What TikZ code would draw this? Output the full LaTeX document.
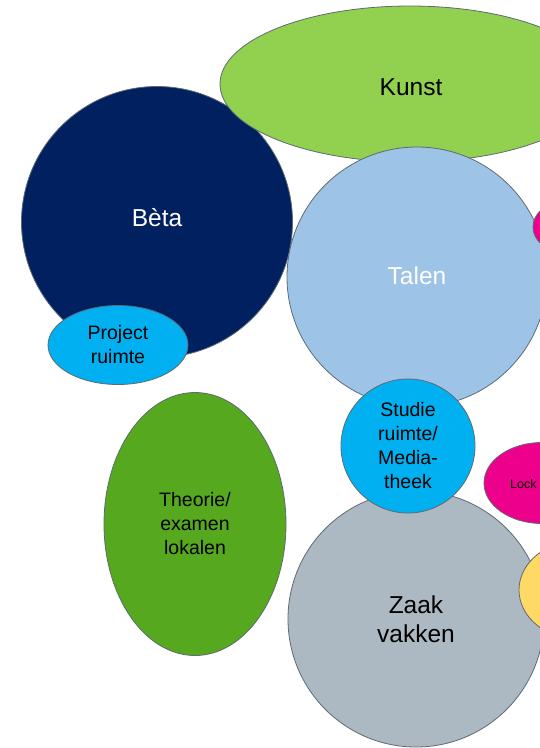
\documentclass[tikz,border=0pt]{standalone}
\usepackage{fontspec}
\setmainfont{Liberation Sans}
\usetikzlibrary{shapes.geometric}
\definecolor{kunstc}{HTML}{92D050}
\definecolor{betac}{HTML}{002060}
\definecolor{cyanc}{HTML}{00B0F0}
\definecolor{talenc}{HTML}{9DC3E6}
\definecolor{theoc}{HTML}{56A81E}
\definecolor{zaakc}{HTML}{ADB9C2}
\definecolor{pinkc}{HTML}{EC008C}
\definecolor{yelc}{HTML}{FFD966}
\definecolor{edgec}{HTML}{5E6A72}
\tikzset{
  blob/.style={ellipse, draw=edgec, line width=0.8pt, inner sep=0pt, align=center},
  bigtxt/.style={font=\fontsize{24.5}{29}\selectfont},
  midtxt/.style={font=\fontsize{19.5}{24}\selectfont},
}
\begin{document}
\begin{tikzpicture}[x=1pt,y=-1pt]
\useasboundingbox (0,0) rectangle (540,748);
\clip (0,0) rectangle (540,748);
\node[blob, fill=betac, minimum width=271pt, minimum height=271pt] (beta) at (157,222) {};
\node[text=white, bigtxt] (betat) at (157,218) {B\`eta};
\node[blob, fill=kunstc, minimum width=380pt, minimum height=156pt] (kunst) at (410,84) {};
\node[bigtxt] (kunstt) at (411,87) {Kunst};
\node[blob, fill=cyanc, midtxt, minimum width=140pt, minimum height=79pt] (proj) at (118,345) {Project\\ruimte};
\node[blob, fill=talenc, minimum width=260pt, minimum height=260pt] (talen) at (417,277) {};
\node[text=white, bigtxt] (talent) at (417,276) {Talen};
\node[blob, fill=pinkc, minimum width=56pt, minimum height=48pt] (pinktop) at (561,227) {};
\node[blob, fill=theoc, midtxt, minimum width=182pt, minimum height=263pt] (theo) at (195,524) {Theorie/\\examen\\lokalen};
\node[blob, fill=zaakc, bigtxt, minimum width=256pt, minimum height=256pt] (zaak) at (416,619) {Zaak\\vakken};
\node[blob, fill=cyanc, midtxt, minimum width=134pt, minimum height=134pt] (studie) at (408,446) {Studie\\ruimte/\\Media-\\theek};
\node[blob, fill=pinkc, minimum width=116pt, minimum height=81pt] (lock) at (542,483) {};
\node[anchor=west, inner sep=0pt, font=\fontsize{12.5}{15}\selectfont] (lockt) at (510,484) {Lock};
\node[blob, fill=yelc, minimum width=124pt, minimum height=100pt] (yel) at (581,590) {};
\end{tikzpicture}
\end{document}
